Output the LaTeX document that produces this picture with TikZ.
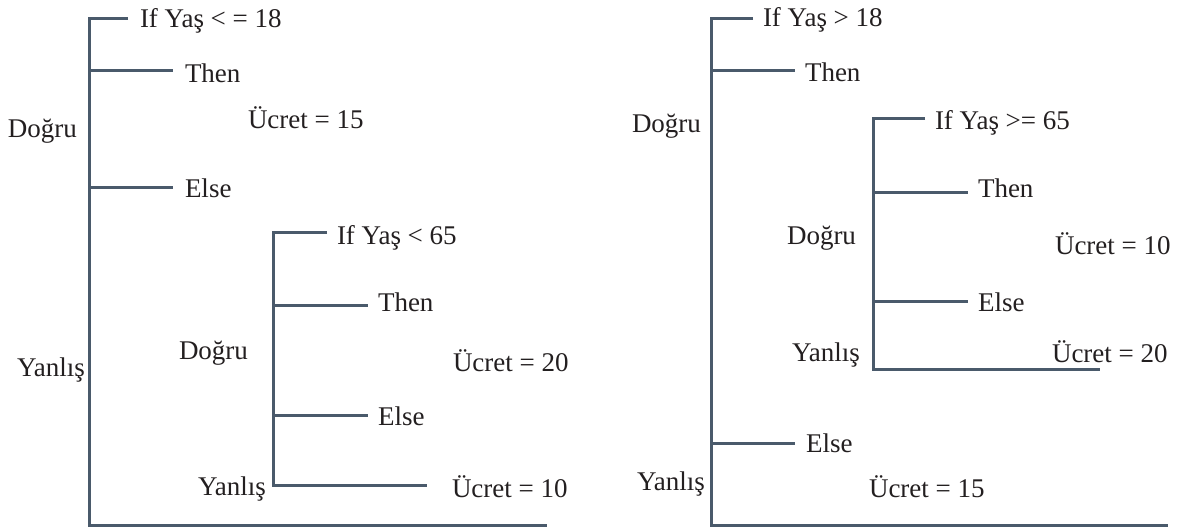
\documentclass[tikz,border=0pt]{standalone}
\usepackage{fontspec}
\setmainfont{Liberation Serif}
\definecolor{ln}{HTML}{4A5A6B}
\definecolor{tx}{HTML}{231F20}
\begin{document}
\begin{tikzpicture}[x=1pt,y=-1pt,
  lbl/.style={anchor=base west, inner sep=0pt, outer sep=0pt, text=tx, font=\fontsize{27}{32}\selectfont},
  bar/.style={draw=ln, line width=3pt, line join=miter, line cap=butt}]
\useasboundingbox (0,0) rectangle (1187,529);

% ---------------- left tree ----------------
\coordinate (LTt) at (89.5,19);
\coordinate (LTte) at (128,19);
\coordinate (LTb) at (89.5,525);
\coordinate (LTbe) at (547,525);
\coordinate (LThen) at (89.5,71);
\coordinate (LThene) at (173,71);
\coordinate (LElse) at (89.5,188);
\coordinate (LElsee) at (173,188);

\coordinate (LIt) at (273,233);
\coordinate (LIte) at (327,233);
\coordinate (LIb) at (273,485);
\coordinate (LIbe) at (427,485);
\coordinate (LIThen) at (273,306);
\coordinate (LIThene) at (368,306);
\coordinate (LIElse) at (273,416);
\coordinate (LIElsee) at (368,416);

\draw[bar] (LTte) -- (LTt) -- (LTb) -- (LTbe);
\draw[bar] (LThen) -- (LThene);
\draw[bar] (LElse) -- (LElsee);
\draw[bar] (LIte) -- (LIt) -- (LIb) -- (LIbe);
\draw[bar] (LIThen) -- (LIThene);
\draw[bar] (LIElse) -- (LIElsee);

\node[lbl] (l_if) at (140,28) {If Yaş < = 18};
\node[lbl] (l_then) at (185,83) {Then};
\node[lbl] (l_u15) at (248,129) {Ücret = 15};
\node[lbl] (l_dogru) at (8,138) {Doğru};
\node[lbl] (l_else) at (185,198) {Else};
\node[lbl] (l_yanlis) at (17,377) {Yanlış};
\node[lbl] (l_if2) at (337,245) {If Yaş < 65};
\node[lbl] (l_then2) at (378,312) {Then};
\node[lbl] (l_dogru2) at (179,360) {Doğru};
\node[lbl] (l_u20) at (453,372) {Ücret = 20};
\node[lbl] (l_else2) at (378,426) {Else};
\node[lbl] (l_yanlis2) at (198,495) {Yanlış};
\node[lbl] (l_u10) at (452,497) {Ücret = 10};

% ---------------- right tree ----------------
\coordinate (RTt) at (711.5,19);
\coordinate (RTte) at (753,19);
\coordinate (RTb) at (711.5,525);
\coordinate (RTbe) at (1168,525);
\coordinate (RThen) at (711.5,71);
\coordinate (RThene) at (795,71);
\coordinate (RElse) at (711.5,444);
\coordinate (RElsee) at (795,444);

\coordinate (RIt) at (873,119);
\coordinate (RIte) at (925,119);
\coordinate (RIb) at (873,370);
\coordinate (RIbe) at (1100,370);
\coordinate (RIThen) at (873,193);
\coordinate (RIThene) at (968,193);
\coordinate (RIElse) at (873,302);
\coordinate (RIElsee) at (968,302);

\draw[bar] (RTte) -- (RTt) -- (RTb) -- (RTbe);
\draw[bar] (RThen) -- (RThene);
\draw[bar] (RElse) -- (RElsee);
\draw[bar] (RIte) -- (RIt) -- (RIb) -- (RIbe);
\draw[bar] (RIThen) -- (RIThene);
\draw[bar] (RIElse) -- (RIElsee);

\node[lbl] (r_if) at (763,27) {If Yaş > 18};
\node[lbl] (r_then) at (805,82) {Then};
\node[lbl] (r_dogru) at (632,133) {Doğru};
\node[lbl] (r_if2) at (935,130) {If Yaş >= 65};
\node[lbl] (r_then2) at (978,198) {Then};
\node[lbl] (r_dogru2) at (787,245) {Doğru};
\node[lbl] (r_u10) at (1055,255) {Ücret = 10};
\node[lbl] (r_else2) at (978,312) {Else};
\node[lbl] (r_yanlis2) at (792,362) {Yanlış};
\node[lbl] (r_u20) at (1052,363) {Ücret = 20};
\node[lbl] (r_else) at (806,453) {Else};
\node[lbl] (r_yanlis) at (637,490) {Yanlış};
\node[lbl] (r_u15) at (869,497) {Ücret = 15};
\end{tikzpicture}
\end{document}
